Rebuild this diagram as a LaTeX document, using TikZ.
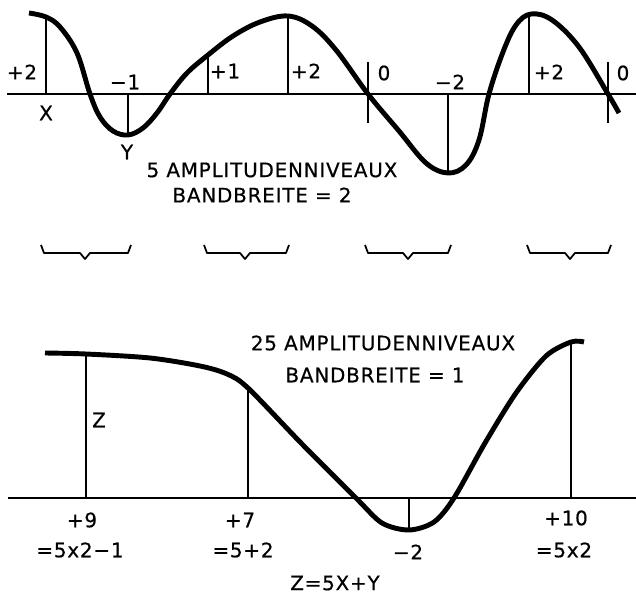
\documentclass[tikz,border=0pt]{standalone}
\usepackage{fontspec}
\setmainfont{DejaVu Sans}[LetterSpace=4,FakeBold=0.5]
\usetikzlibrary{positioning}

\begin{document}
\begin{tikzpicture}[x=0.03cm,y=-0.03cm,
    curve/.style={line width=4.2pt,line join=round},
    axis/.style={line width=1.5pt},
    ord/.style={line width=1.1pt},
    brc/.style={line width=1.5pt,line join=round},
    lbl/.style={font=\fontsize{17}{20}\selectfont,inner sep=1pt}]
  \useasboundingbox (0,0) rectangle (636,597);
  % upper signal, 5 levels
  \coordinate (tl) at (7,94);
  \coordinate (tr) at (636,94);
  \draw[axis](tl)--(tr);
  \draw[curve] plot[smooth,tension=0.6] coordinates {(29,13) (46,17) (60,27)
    (77,53) (90,94) (100,117) (113,131) (128,135) (143,128) (157,113) (170,94)
    (187,73) (208,55) (233,36) (260,22) (288,16) (312,26) (336,50) (368,94)
    (399,131) (426,163) (448,173) (466,165) (479,140) (489,94) (503,52)
    (516,25) (531,14) (552,20) (579,47) (608,94) (619,113)};
  \coordinate (a1) at (46,94);  \coordinate (c1) at (46,17);
  \coordinate (a2) at (128,94); \coordinate (c2) at (128,135);
  \coordinate (a3) at (208,94); \coordinate (c3) at (208,55);
  \coordinate (a4) at (288,94); \coordinate (c4) at (288,16);
  \coordinate (a5) at (448,94); \coordinate (c5) at (448,173);
  \coordinate (a6) at (529,94); \coordinate (c6) at (529,14);
  \coordinate (z1t) at (368,62); \coordinate (z1b) at (368,123);
  \coordinate (z2t) at (608,62); \coordinate (z2b) at (608,123);
  \draw[ord](a1)--(c1);
  \draw[ord](a2)--(c2);
  \draw[ord](a3)--(c3);
  \draw[ord](a4)--(c4);
  \draw[ord](a5)--(c5);
  \draw[ord](a6)--(c6);
  \draw[ord](z1t)--(z1b);
  \draw[ord](z2t)--(z2b);
  \node[lbl](p1) at (22,72){+2};
  \node[lbl](lx) at (46,113){X};
  \node[lbl](p2) at (125,82){−1};
  \node[lbl](ly) at (127,152){Y};
  \node[lbl](p3) at (225,71){+1};
  \node[lbl](p4) at (306,71){+2};
  \node[lbl](p5) at (384,73){0};
  \node[lbl](p6) at (450,82){−2};
  \node[lbl](p7) at (549,72){+2};
  \node[lbl](p8) at (623,73){0};
  \node[lbl](t1) at (272,170){5 AMPLITUDENNIVEAUX};
  \node[lbl](t2) at (262,195){BANDBREITE = 2};
  % braces
  \draw[brc](41,245)--++(3,8)--(80,253)--(85,259)--(90,253)--(128,253)--++(3,-8);
  \draw[brc](204,245)--++(3,8)--(240,253)--(245,259)--(250,253)--(286,253)--++(3,-8);
  \draw[brc](365,245)--++(3,8)--(403,253)--(408,259)--(413,253)--(448,253)--++(3,-8);
  \draw[brc](527,245)--++(3,8)--(565,253)--(570,259)--(575,253)--(608,253)--++(3,-8);
  % lower signal, 25 levels
  \coordinate (bl) at (8,498);
  \coordinate (br) at (636,498);
  \draw[axis](bl)--(br);
  \draw[curve] plot[smooth,tension=0.5] coordinates {(45,353) (86,354) (150,358)
    (200,366) (227,374) (248,388) (302,444) (356,498) (382,523)
    (409,530) (434,522) (454,498) (485,443) (516,393) (546,356) (571,342)
    (584,342)};
  \coordinate (b1) at (86,498);  \coordinate (d1) at (86,354);
  \coordinate (b2) at (248,498); \coordinate (d2) at (248,388);
  \coordinate (b3) at (409,498); \coordinate (d3) at (409,530);
  \coordinate (b4) at (571,498); \coordinate (d4) at (571,342);
  \draw[ord](b1)--(d1);
  \draw[ord](b2)--(d2);
  \draw[ord](b3)--(d3);
  \draw[ord](b4)--(d4);
  \node[lbl](lz) at (99,420){Z};
  \node[lbl](q1) at (82,520){+9};
  \node[lbl](e1) at (80,550){=5x2−1};
  \node[lbl](q2) at (240,520){+7};
  \node[lbl](e2) at (243,550){=5+2};
  \node[lbl](q3) at (408,552){−2};
  \node[lbl](q4) at (566,518){+10};
  \node[lbl](e4) at (564,550){=5x2};
  \node[lbl](s1) at (383,343){25 AMPLITUDENNIVEAUX};
  \node[lbl](s2) at (375,375){BANDBREITE = 1};
  \node[lbl](fz) at (335,583){Z=5X+Y};
\end{tikzpicture}
\end{document}
